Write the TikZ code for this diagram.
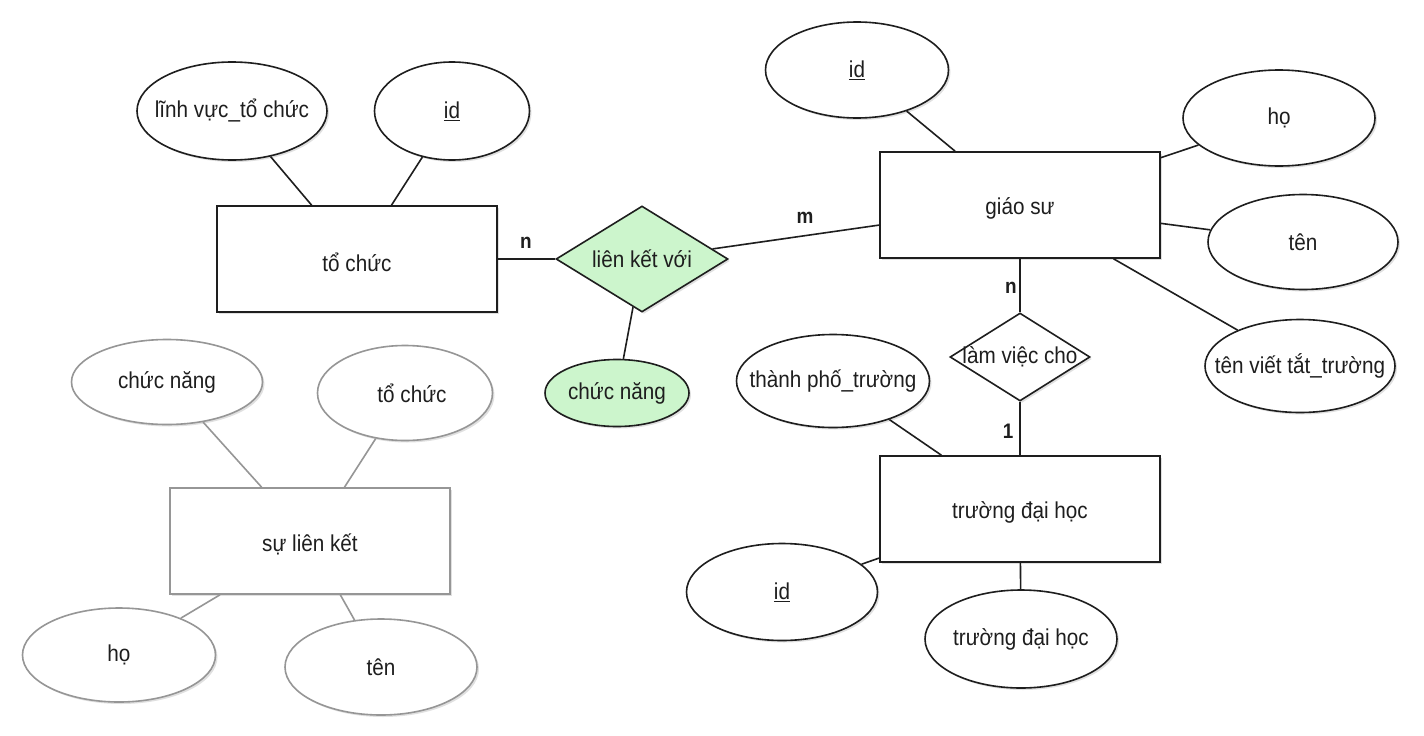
\documentclass[tikz,border=0pt]{standalone}
\usepackage{fontspec}
\setmainfont[FakeStretch=0.9]{Liberation Sans}
\usetikzlibrary{shapes.geometric,shadows}
\definecolor{ln}{RGB}{30,30,30}
\definecolor{gry}{RGB}{150,150,150}
\definecolor{grn}{RGB}{204,245,204}
\newcommand\zt[1]{\makebox[0pt]{#1}}
\newcommand\lowt[1]{\raisebox{-3pt}[\height][\depth]{#1}}
\tikzset{
  base/.style={fill=white, inner sep=0pt, text=ln, font=\fontsize{23}{26}\selectfont,
    drop shadow={shadow xshift=2pt, shadow yshift=-2pt, opacity=0.12, fill=black}},
  ent/.style={base, draw=ln, line width=1.6pt, rectangle, minimum width=280pt, minimum height=106pt},
  gent/.style={ent, draw=gry},
  attr/.style 2 args={base, draw=ln, line width=1.6pt, ellipse, minimum width=#1pt, minimum height=#2pt},
  gattr/.style 2 args={attr={#1}{#2}, draw=gry},
  rel/.style 2 args={base, draw=ln, line width=1.6pt, diamond, minimum width=#1pt, minimum height=#2pt},
  conn/.style={draw=ln, line width=1.6pt},
  gconn/.style={draw=gry, line width=1.6pt},
  card/.style={font=\fontsize{21}{23}\selectfont\bfseries, text=ln, inner sep=0pt},
}
\begin{document}
\begin{tikzpicture}[x=1pt,y=-1pt]
\useasboundingbox[fill=white] (0,0) rectangle (1424,736);

% tổ chức group
\node[ent] (org) at (357,259) {\lowt{tổ chức}};
\node[attr={190}{98}] (orgfield) at (232,111) {\zt{lĩnh vực\_tổ chức}};
\node[attr={155}{98}] (orgid) at (452,111) {\zt{\underline{id}}};

% relationship liên kết với
\node[rel={172}{106}, fill=grn] (link) at (642,259) {\zt{liên kết với}};
\node[attr={144}{67}, fill=grn] (func) at (617,393) {\zt{chức năng}};

% giáo sư group
\node[ent] (prof) at (1020,205) {\lowt{giáo sư}};
\node[attr={183}{96}] (profid) at (857,70) {\zt{\underline{id}}};
\node[attr={192}{96}] (profho) at (1279,118) {\zt{họ}};
\node[attr={190}{95}] (proften) at (1303,242) {\zt{tên}};
\node[attr={190}{93}] (profabbr) at (1300,366) {\zt{tên viết tắt\_trường}};

% làm việc cho
\node[rel={140}{88}] (work) at (1020,357) {\zt{làm việc cho}};

% trường đại học group
\node[ent] (uni) at (1020,509) {\lowt{trường đại học}};
\node[attr={193}{93}] (unicity) at (833,381) {\zt{thành phố\_trường}};
\node[attr={191}{97}] (uniid) at (782,592) {\zt{\underline{id}}};
\node[attr={192}{98}] (uniname) at (1021,639) {\zt{trường đại học}};

% sự liên kết group (gray)
\node[gent] (assoc) at (310,541) {\lowt{sự liên kết}};
\node[gattr={191}{85}] (afunc) at (167,382) {\zt{chức năng}};
\node[gattr={175}{95}] (aorg) at (405,393) {\zt{\hspace{14pt}tổ chức}};
\node[gattr={193}{94}] (aho) at (119,655) {\zt{họ}};
\node[gattr={192}{96}] (aten) at (381,667) {\zt{tên}};

% connectors
\draw[conn] (orgfield) -- (org);
\draw[conn] (orgid) -- (org);
\draw[conn] (org) -- (link);
\draw[conn] (link) -- (prof);
\draw[conn] (link) -- (func);
\draw[conn] (profid) -- (prof);
\draw[conn] (profho) -- (prof);
\draw[conn] (proften) -- (prof);
\draw[conn] (profabbr) -- (prof);
\draw[conn] (prof) -- (work);
\draw[conn] (work) -- (uni);
\draw[conn] (unicity) -- (uni);
\draw[conn] (uniid) -- (uni);
\draw[conn] (uniname) -- (uni);
\draw[gconn] (afunc) -- (assoc);
\draw[gconn] (aorg) -- (assoc);
\draw[gconn] (aho) -- (assoc);
\draw[gconn] (aten) -- (assoc);

% cardinalities
\node[card] (c1) at (526,243) {n};
\node[card] (c2) at (805,218) {m};
\node[card] (c3) at (1011,288) {n};
\node[card] (c4) at (1008,431) {1};
\end{tikzpicture}
\end{document}
